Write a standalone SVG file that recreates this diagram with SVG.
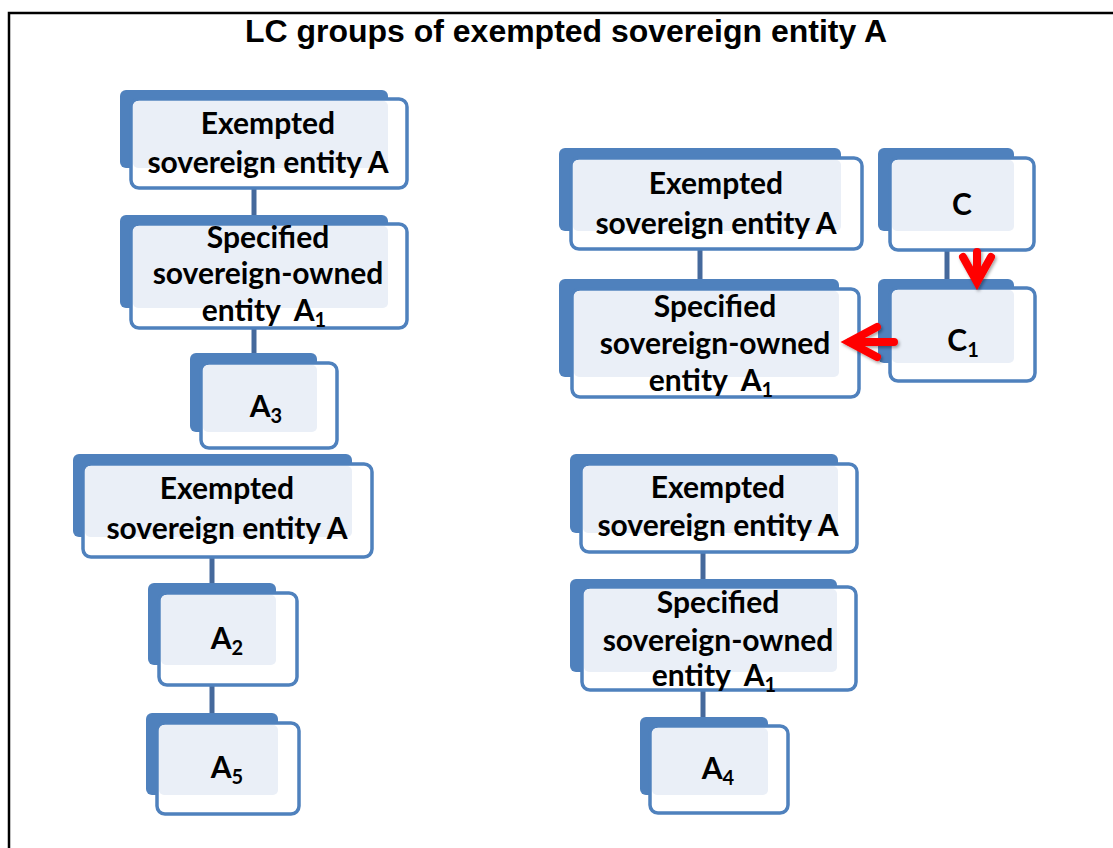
<svg xmlns="http://www.w3.org/2000/svg" width="1113" height="848" viewBox="0 0 1113 848">
<style>
.back{fill:#4F81BD}
.front{fill:#FFFFFF;stroke:#4F81BD;stroke-width:3.5}
.light{fill:#EAEFF7}
.lbl{font-family:Lato,"Open Sans","Liberation Sans",sans-serif;font-weight:bold;font-size:30px;fill:#000;text-anchor:middle}
.sub{font-size:20px}
.conn{stroke:#45699C;stroke-width:5;fill:none}
.red{stroke:#FF0000;stroke-width:8;fill:none;stroke-linecap:round;stroke-linejoin:miter}
.title{font-family:"Liberation Sans",Arial,sans-serif;font-weight:bold;font-size:31px;fill:#000;text-anchor:middle}
</style>
<defs>
<filter id="sh" x="-30%" y="-30%" width="160%" height="160%">
<feDropShadow dx="1.5" dy="2" stdDeviation="1.5" flood-color="#000" flood-opacity="0.35"/>
</filter>
</defs>
<rect x="0" y="0" width="1113" height="848" fill="#FFFFFF"/>
<path d="M9 848 V13 H1113" fill="none" stroke="#000" stroke-width="2.5"/>
<text class="title" x="566" y="42" textLength="642" lengthAdjust="spacingAndGlyphs">LC groups of exempted sovereign entity A</text>

<g id="connectors">
<line class="conn" x1="254" y1="186" x2="254" y2="216"/>
<line class="conn" x1="254" y1="326" x2="254" y2="354"/>
<line class="conn" x1="212" y1="555" x2="212" y2="584"/>
<line class="conn" x1="212" y1="683" x2="212" y2="714"/>
<line class="conn" x1="700" y1="247" x2="700" y2="280"/>
<line class="conn" x1="947" y1="248" x2="947" y2="280"/>
<line class="conn" x1="703" y1="550" x2="703" y2="580"/>
<line class="conn" x1="703" y1="688" x2="703" y2="718"/>
</g>

<g id="node-A-top">
<rect class="back" x="120" y="90" width="268" height="78" rx="6"/>
<rect class="front" x="131" y="99" width="276" height="89" rx="8"/>
<rect class="light" x="133" y="101" width="255" height="67" rx="5"/>
<text class="lbl" x="268" y="134">Exempted</text>
<text class="lbl" x="268" y="173">sovereign entity A</text>
</g>

<g id="node-A1-left">
<rect class="back" x="120" y="215" width="268" height="93" rx="6"/>
<rect class="front" x="131" y="224" width="276" height="104" rx="8"/>
<rect class="light" x="133" y="226" width="255" height="82" rx="5"/>
<text class="lbl" x="268" y="248">Specified</text>
<text class="lbl" x="268" y="284">sovereign-owned</text>
<text class="lbl" x="264" y="321" xml:space="preserve">entity  A<tspan class="sub" dy="6">1</tspan></text>
</g>

<g id="node-A3">
<rect class="back" x="190" y="353" width="127" height="79" rx="6"/>
<rect class="front" x="201" y="363" width="136" height="85" rx="8"/>
<rect class="light" x="203" y="365" width="114" height="67" rx="5"/>
<text class="lbl" x="266" y="417">A<tspan class="sub" dy="6">3</tspan></text>
</g>

<g id="node-A-mid">
<rect class="back" x="73" y="454" width="279" height="83" rx="6"/>
<rect class="front" x="83" y="464" width="289" height="93" rx="8"/>
<rect class="light" x="85" y="466" width="267" height="71" rx="5"/>
<text class="lbl" x="227" y="499">Exempted</text>
<text class="lbl" x="227" y="539">sovereign entity A</text>
</g>

<g id="node-A2">
<rect class="back" x="148" y="583" width="128" height="82" rx="6"/>
<rect class="front" x="159" y="593" width="138" height="92" rx="8"/>
<rect class="light" x="161" y="595" width="115" height="70" rx="5"/>
<text class="lbl" x="227" y="649">A<tspan class="sub" dy="6">2</tspan></text>
</g>

<g id="node-A5">
<rect class="back" x="146" y="713" width="132" height="82" rx="6"/>
<rect class="front" x="157" y="723" width="142" height="91" rx="8"/>
<rect class="light" x="159" y="725" width="119" height="70" rx="5"/>
<text class="lbl" x="227" y="778">A<tspan class="sub" dy="6">5</tspan></text>
</g>

<g id="node-A-right">
<rect class="back" x="559" y="148" width="282" height="83" rx="6"/>
<rect class="front" x="571" y="158" width="291" height="91" rx="8"/>
<rect class="light" x="573" y="160" width="268" height="71" rx="5"/>
<text class="lbl" x="716" y="194">Exempted</text>
<text class="lbl" x="716" y="234">sovereign entity A</text>
</g>

<g id="node-A1-right">
<rect class="back" x="559" y="279" width="280" height="98" rx="6"/>
<rect class="front" x="572" y="289" width="287" height="108" rx="8"/>
<rect class="light" x="574" y="291" width="265" height="86" rx="5"/>
<text class="lbl" x="715" y="317">Specified</text>
<text class="lbl" x="715" y="354">sovereign-owned</text>
<text class="lbl" x="711" y="391" xml:space="preserve">entity  A<tspan class="sub" dy="6">1</tspan></text>
</g>

<g id="node-C">
<rect class="back" x="878" y="148" width="136" height="83" rx="6"/>
<rect class="front" x="890" y="158" width="144" height="92" rx="8"/>
<rect class="light" x="892" y="160" width="122" height="71" rx="5"/>
<text class="lbl" x="962" y="215">C</text>
</g>

<g id="node-C1">
<rect class="back" x="878" y="279" width="136" height="84" rx="6"/>
<rect class="front" x="890" y="288" width="145" height="93" rx="8"/>
<rect class="light" x="892" y="290" width="122" height="73" rx="5"/>
<text class="lbl" x="963" y="351">C<tspan class="sub" dy="6">1</tspan></text>
</g>

<g id="node-A-bottom">
<rect class="back" x="570" y="454" width="268" height="79" rx="6"/>
<rect class="front" x="581" y="464" width="276" height="88" rx="8"/>
<rect class="light" x="583" y="466" width="255" height="67" rx="5"/>
<text class="lbl" x="718" y="498">Exempted</text>
<text class="lbl" x="718" y="536">sovereign entity A</text>
</g>

<g id="node-A1-bottom">
<rect class="back" x="570" y="579" width="267" height="93" rx="6"/>
<rect class="front" x="582" y="587" width="274" height="103" rx="8"/>
<rect class="light" x="584" y="589" width="253" height="83" rx="5"/>
<text class="lbl" x="718" y="613">Specified</text>
<text class="lbl" x="718" y="651">sovereign-owned</text>
<text class="lbl" x="714" y="686" xml:space="preserve">entity  A<tspan class="sub" dy="6">1</tspan></text>
</g>

<g id="node-A4">
<rect class="back" x="640" y="717" width="128" height="78" rx="6"/>
<rect class="front" x="650" y="726" width="138" height="87" rx="8"/>
<rect class="light" x="652" y="728" width="116" height="67" rx="5"/>
<text class="lbl" x="718" y="779">A<tspan class="sub" dy="6">4</tspan></text>
</g>

<g id="red-arrows" filter="url(#sh)">
<path class="red" d="M977 252 V280"/>
<path class="red" d="M963 257 L977 282 L991 257"/>
<path class="red" d="M894 342 H850"/>
<path class="red" d="M877 327 L849 342 L877 357"/>
</g>
</svg>
